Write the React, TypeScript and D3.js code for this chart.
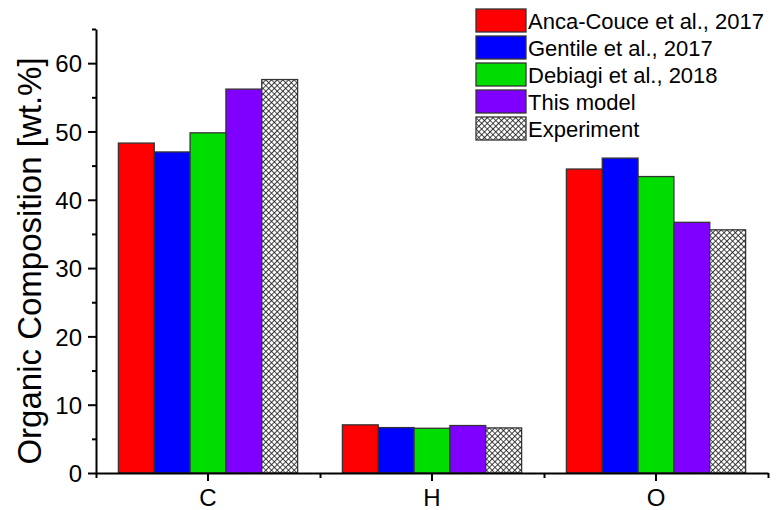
import React, { useEffect, useRef } from 'react';
import * as d3 from 'd3';

const categories = ['C', 'H', 'O'];
const seriesNames = ['Anca-Couce et al., 2017', 'Gentile et al., 2017', 'Debiagi et al., 2018', 'This model', 'Experiment'];
const ancaCouce = [48.3, 7.05, 44.5];
const gentile = [47.0, 6.65, 46.1];
const debiagi = [49.8, 6.55, 43.4];
const thisModel = [56.2, 6.95, 36.7];
const experiment = [57.6, 6.6, 35.6];
const seriesColors = ['#ff0000', '#0000ff', '#00dd00', '#8000ff', 'url(#xhatch)'];
const yTicks = [0, 10, 20, 30, 40, 50, 60];

const W = 776;
const H = 510;
const FONT = '"Liberation Sans", Arial, sans-serif';

function App() {
    const ref = useRef<SVGSVGElement>(null);

    useEffect(() => {
        const svg = d3.select(ref.current);
        svg.selectAll('*').remove();

        const values = [ancaCouce, gentile, debiagi, thisModel, experiment];
        const left = 96, right = 768, top = 29, bottom = 473;

        // crosshatch fill for the experiment bars
        const pat = svg.append('defs').append('pattern')
            .attr('id', 'xhatch')
            .attr('patternUnits', 'userSpaceOnUse')
            .attr('width', 4)
            .attr('height', 4)
            .attr('patternTransform', 'rotate(45)');
        pat.append('rect').attr('width', 4).attr('height', 4).attr('fill', '#fff');
        pat.append('path')
            .attr('d', 'M0,0 H4 M0,0 V4')
            .attr('stroke', '#111')
            .attr('stroke-width', 1.6);

        const x = d3.scaleBand()
            .domain(categories)
            .range([left, right])
            .paddingInner(0.2)
            .paddingOuter(0.1);
        const xInner = d3.scaleBand()
            .domain(seriesNames)
            .range([0, x.bandwidth()]);
        const xLin = d3.scaleLinear().domain([0.5, 3.5]).range([left, right]);
        const y = d3.scaleLinear().domain([0, 65]).range([bottom, top]);

        // bars
        seriesNames.forEach((name, si) => {
            svg.append('g')
                .selectAll('rect')
                .data(categories)
                .enter()
                .append('rect')
                .attr('x', d => x(d)! + xInner(name)!)
                .attr('y', (d, i) => y(values[si][i]))
                .attr('width', xInner.bandwidth())
                .attr('height', (d, i) => y(0) - y(values[si][i]))
                .attr('fill', seriesColors[si])
                .attr('stroke', '#333')
                .attr('stroke-width', 1.3);
        });

        // y axis
        const yAxis = svg.append('g')
            .attr('transform', `translate(${left},0)`)
            .call(d3.axisLeft(y).tickValues(yTicks).tickSize(8).tickSizeOuter(0).tickPadding(6));
        svg.append('g')
            .attr('transform', `translate(${left},0)`)
            .call(d3.axisLeft(y).tickValues([5, 15, 25, 35, 45, 55, 65]).tickSize(4).tickFormat(() => ''))
            .select('.domain').remove();

        // x axis
        const xAxis = svg.append('g')
            .attr('transform', `translate(0,${bottom})`)
            .call(d3.axisBottom(x).tickSize(8).tickSizeOuter(0).tickPadding(8));
        svg.append('g')
            .attr('transform', `translate(0,${bottom})`)
            .call(d3.axisBottom(xLin).tickValues([0.5, 1.5, 2.5, 3.5]).tickSize(5).tickFormat(() => ''))
            .select('.domain').remove();

        svg.selectAll('.domain, .tick line')
            .attr('stroke', '#000')
            .attr('stroke-width', 2);
        svg.selectAll('.tick text')
            .attr('font-family', FONT)
            .attr('font-size', 24)
            .attr('fill', '#000');
        xAxis.selectAll('.tick text').attr('dy', '0.71em');
        yAxis.selectAll('.tick text').attr('dy', '0.36em');

        svg.append('text')
            .attr('transform', `translate(41,${(top + bottom) / 2 + 10}) rotate(-90)`)
            .attr('text-anchor', 'middle')
            .attr('font-family', FONT)
            .attr('font-size', 33)
            .text('Organic Composition [wt.%]');

        // legend
        const legend = svg.append('g').attr('transform', 'translate(476,9)');
        seriesNames.forEach((name, i) => {
            const row = legend.append('g').attr('transform', `translate(0,${i * 27})`);
            row.append('rect')
                .attr('width', 50)
                .attr('height', 23)
                .attr('fill', seriesColors[i])
                .attr('stroke', '#333')
                .attr('stroke-width', 1.3);
            row.append('text')
                .attr('x', 52)
                .attr('y', 12)
                .attr('dy', '0.36em')
                .attr('font-family', FONT)
                .attr('font-size', 22)
                .text(name);
        });
    }, []);

    return (
        <div style={{ position: 'absolute', left: 0, top: 0 }}>
            <svg ref={ref} width={W} height={H} style={{ display: 'block', background: '#fff' }}></svg>
        </div>
    );
}

export default App;
